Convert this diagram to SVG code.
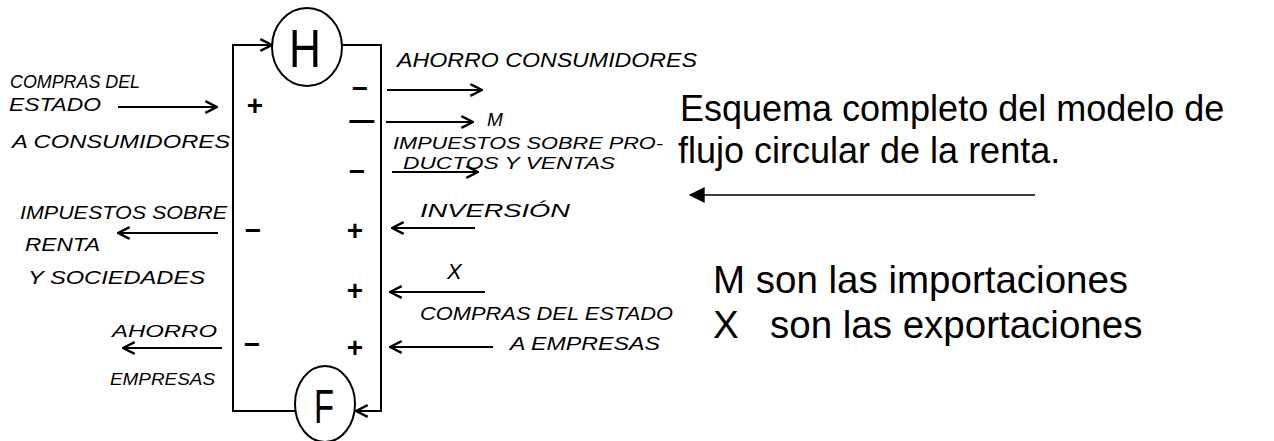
<svg xmlns="http://www.w3.org/2000/svg" width="1274" height="441" viewBox="0 0 1274 441">
<style>
.hw{font-family:"Liberation Sans","DejaVu Sans",sans-serif;font-style:italic;fill:#000;}
.cap{font-family:"Liberation Sans",Arial,sans-serif;font-size:36px;fill:#000;}
.cap2{font-family:"Liberation Sans",Arial,sans-serif;font-size:38.5px;fill:#000;}
.ln{stroke:#000;stroke-width:2;fill:none;}
.sg{font-family:"Liberation Sans",Arial,sans-serif;font-size:28px;font-weight:bold;fill:#000;text-anchor:middle;}
</style>
<defs>
<marker id="open" viewBox="0 0 12 12" refX="11" refY="6" markerWidth="14" markerHeight="14" markerUnits="userSpaceOnUse" orient="auto">
<path d="M1,1 L11,6 L1,11" fill="none" stroke="#000" stroke-width="2"/>
</marker>
<marker id="solid" viewBox="0 0 12 12" refX="11" refY="6" markerWidth="20" markerHeight="16" markerUnits="userSpaceOnUse" orient="auto">
<path d="M0,0 L12,6 L0,12 z" fill="#000"/>
</marker>
</defs>
<rect width="1274" height="441" fill="#fff"/>

<g id="node-H">
<ellipse cx="307" cy="47" rx="35" ry="39" class="ln"/>
<text x="305" y="67" font-family="Liberation Sans,Arial,sans-serif" font-size="54" text-anchor="middle" textLength="32" lengthAdjust="spacingAndGlyphs">H</text>
</g>
<g id="node-F">
<ellipse cx="325" cy="404" rx="30" ry="38" class="ln"/>
<text x="324" y="423" font-family="Liberation Sans,Arial,sans-serif" font-size="48" text-anchor="middle" textLength="20" lengthAdjust="spacingAndGlyphs">F</text>
</g>
<g id="node-box">
<path class="ln" d="M272,45 L233,45 L233,411 L295,411"/>
<path class="ln" d="M342,45 L381,45 L381,411 L355,411"/>
</g>

<g id="connectors" class="ln">
<line x1="240" y1="45" x2="272" y2="45" marker-end="url(#open)"/>
<line x1="381" y1="411" x2="356" y2="411" marker-end="url(#open)"/>
<line x1="118" y1="107" x2="217" y2="107" marker-end="url(#open)"/>
<line x1="218" y1="233" x2="118" y2="233" marker-end="url(#open)"/>
<line x1="222" y1="348" x2="123" y2="348" marker-end="url(#open)"/>
<line x1="387" y1="90" x2="482" y2="90" marker-end="url(#open)"/>
<line x1="386" y1="122" x2="473" y2="122" marker-end="url(#open)"/>
<line x1="392" y1="172" x2="478" y2="172" marker-end="url(#open)"/>
<line x1="475" y1="228" x2="392" y2="228" marker-end="url(#open)"/>
<line x1="485" y1="292" x2="390" y2="292" marker-end="url(#open)"/>
<line x1="493" y1="347" x2="390" y2="347" marker-end="url(#open)"/>
<line x1="1035" y1="195" x2="690" y2="195" stroke-width="1.5" marker-end="url(#solid)"/>
</g>

<g id="signs">
<text class="sg" x="255" y="115">+</text>
<text class="sg" x="360" y="98">−</text>
<text class="sg" x="362" y="131" textLength="29" lengthAdjust="spacingAndGlyphs">−</text>
<text class="sg" x="357" y="181">−</text>
<text class="sg" x="355" y="240">+</text>
<text class="sg" x="355" y="300">+</text>
<text class="sg" x="355" y="357">+</text>
<text class="sg" x="253" y="240">−</text>
<text class="sg" x="252" y="354">−</text>
</g>

<g id="labels" class="hw">
<text x="397" y="67" font-size="20" textLength="300" lengthAdjust="spacingAndGlyphs">AHORRO CONSUMIDORES</text>
<text x="10" y="88" font-size="19" textLength="130" lengthAdjust="spacingAndGlyphs">COMPRAS DEL</text>
<text x="9" y="111" font-size="18" textLength="92" lengthAdjust="spacingAndGlyphs">ESTADO</text>
<text x="12" y="148" font-size="19" textLength="218" lengthAdjust="spacingAndGlyphs">A CONSUMIDORES</text>
<text x="20" y="219" font-size="19" textLength="207" lengthAdjust="spacingAndGlyphs">IMPUESTOS SOBRE</text>
<text x="25" y="251" font-size="18" textLength="75" lengthAdjust="spacingAndGlyphs">RENTA</text>
<text x="28" y="284" font-size="19" textLength="177" lengthAdjust="spacingAndGlyphs">Y SOCIEDADES</text>
<text x="112" y="337" font-size="17" textLength="105" lengthAdjust="spacingAndGlyphs">AHORRO</text>
<text x="110" y="385" font-size="17" textLength="105" lengthAdjust="spacingAndGlyphs">EMPRESAS</text>
<text x="487" y="126" font-size="19">M</text>
<text x="393" y="149" font-size="17" textLength="270" lengthAdjust="spacingAndGlyphs">IMPUESTOS SOBRE PRO-</text>
<text x="403" y="169" font-size="16" textLength="212" lengthAdjust="spacingAndGlyphs">DUCTOS Y VENTAS</text>
<text x="420" y="217" font-size="18" textLength="150" lengthAdjust="spacingAndGlyphs">INVERSIÓN</text>
<text x="447" y="279" font-size="22">X</text>
<text x="420" y="320" font-size="18" textLength="253" lengthAdjust="spacingAndGlyphs">COMPRAS DEL ESTADO</text>
<text x="510" y="350" font-size="19" textLength="150" lengthAdjust="spacingAndGlyphs">A EMPRESAS</text>
</g>

<g id="caption">
<text class="cap" x="680" y="121">Esquema completo del modelo de</text>
<text class="cap" x="678" y="163">flujo circular de la renta.</text>
<text class="cap2" x="713" y="293">M son las importaciones</text>
<text class="cap2" x="713" y="338">X<tspan x="770">son las exportaciones</tspan></text>
</g>
</svg>
